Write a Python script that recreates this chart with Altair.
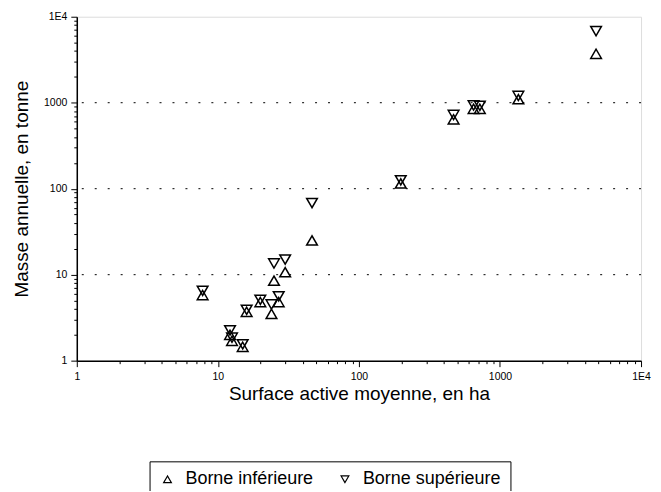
import altair as alt
import pandas as pd

# Surface active moyenne (ha) and the two bounds of the annual mass (tonnes)
surface = [7.8, 12.2, 12.6, 15.0, 16.0, 20.0, 24.0, 27.0, 25.0, 30.0, 46.5, 198, 469, 650, 720, 1350, 4800]
borne_inf = [5.8, 2.0, 1.7, 1.45, 3.7, 4.8, 3.5, 4.8, 8.5, 10.7, 25.0, 115, 640, 850, 850, 1100, 3700]
borne_sup = [6.5, 2.25, 1.85, 1.55, 3.9, 5.1, 4.5, 5.6, 13.5, 15.0, 68.0, 125, 720, 930, 920, 1200, 6800]

series = ["Borne inférieure", "Borne supérieure"]
shapes = ["triangle-up", "triangle-down"]

decades = [1, 10, 100, 1000, 10000]
decade_labels = ["1", "10", "100", "1000", "1E4"]
grid_levels = [10, 100, 1000]
tick_values = [m * d for d in [1, 10, 100, 1000] for m in range(1, 10)] + [10000]

rows = []
for s, lo, hi in zip(surface, borne_inf, borne_sup):
    rows.append({"surface": s, "masse": lo, "serie": series[0]})
    rows.append({"surface": s, "masse": hi, "serie": series[1]})
df = pd.DataFrame(rows)
grid_df = pd.DataFrame({"v": grid_levels})

label_expr = "''"
for v, lab in reversed(list(zip(decades, decade_labels))):
    label_expr = f"datum.value == {v} ? '{lab}' : ({label_expr})"
major_test = "indexof([" + ",".join(str(d) for d in decades) + "], datum.value) >= 0"

FONT = "Liberation Sans"

xscale = alt.Scale(type="log", domain=[1, 10000], nice=False)
yscale = alt.Scale(type="log", domain=[1, 10000], nice=False)

axis_common = dict(
    values=tick_values,
    labelExpr=label_expr,
    grid=False,
    labelFont=FONT,
    labelFontSize=10.5,
    labelColor="black",
    titleFont=FONT,
    titleFontSize=19,
    titleFontWeight="normal",
    titleColor="black",
    domainColor="black",
    domainWidth=1.5,
    tickColor="black",
    tickSize={"condition": {"test": major_test, "value": 6}, "value": 3},
    labelFlush=False,
    labelOverlap=False,
)

points = alt.Chart(df).mark_point(filled=False, color="black", size=115, strokeWidth=1.5, opacity=1).encode(
    x=alt.X("surface:Q", scale=xscale,
            axis=alt.Axis(title="Surface active moyenne, en ha", labelPadding=5, titlePadding=2, **axis_common)),
    y=alt.Y("masse:Q", scale=yscale,
            axis=alt.Axis(title="Masse annuelle, en tonne", labelPadding=4, titlePadding=12, **axis_common)),
    shape=alt.Shape("serie:N", scale=alt.Scale(domain=series, range=shapes),
                    legend=alt.Legend(title=None, orient="none", legendX=73, legendY=446,
                                      direction="horizontal", labelFont=FONT, labelFontSize=18,
                                      labelColor="black", symbolSize=60, symbolStrokeWidth=1.2,
                                      symbolStrokeColor="black", symbolFillColor="transparent",
                                      columnPadding=22, strokeColor="black", padding=9,
                                      labelOffset=9)),
)

grid = alt.Chart(grid_df).mark_rule(color="black", strokeDash=[2, 11], strokeWidth=1).encode(
    y=alt.Y("v:Q", scale=yscale)
)

chart = alt.layer(grid, points).properties(
    width=566, height=345,
    autosize=alt.AutoSizeParams(type="none"),
    padding={"left": 69, "top": 8, "right": 12, "bottom": 130},
).configure_view(stroke="black", strokeWidth=1).configure(background="white")

chart.save("out.html", embed_options={"renderer": "svg", "actions": False})
